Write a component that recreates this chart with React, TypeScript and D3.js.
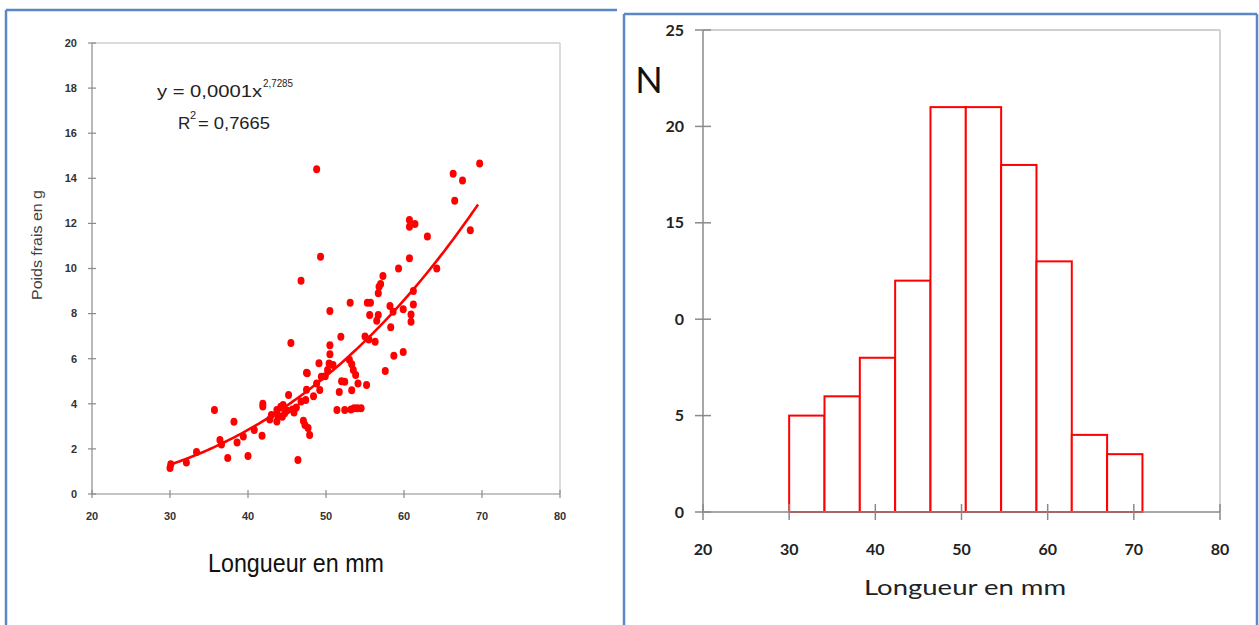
import React from "react";
import * as d3 from "d3";

// ---------- Data ----------
const scatterLength: number[] = [
  30.0, 30.1, 32.1, 33.4, 35.7, 36.4, 36.6, 37.4, 38.2, 38.6, 39.4, 40.0, 40.8, 41.8, 41.9, 41.9,
  43.7, 43.8, 43.7, 44.2, 44.5, 44.4, 44.7, 45.2, 45.5, 45.7, 45.9, 46.2, 46.4, 47.1, 47.3, 47.7,
  47.9, 47.5, 47.5, 47.4, 48.4, 49.2, 49.4, 49.9, 50.2, 50.4, 50.5, 50.5, 50.9, 51.4, 51.7, 52.0,
  52.4, 51.9, 52.4, 53.2, 53.6, 54.0, 54.5, 53.0, 53.3, 53.5, 53.8, 53.3, 54.1, 55.2, 55.0, 55.5,
  56.3, 57.6, 58.7, 59.9, 48.8, 69.7, 66.3, 67.5, 66.5, 68.5, 60.7, 60.7, 61.4, 63.0, 60.7, 59.3,
  64.2, 49.3, 46.8, 57.3, 57.0, 56.8, 56.7, 61.2, 50.5, 53.1, 55.3, 55.7, 55.6, 56.7, 58.2, 59.9,
  61.2, 60.9, 60.9, 58.3, 58.6, 56.5, 49.1, 47.6, 42.8, 43.0, 46.8, 45.0, 48.8,
];
const scatterWeight: number[] = [
  1.15, 1.32, 1.4, 1.86, 3.73, 2.4, 2.2, 1.6, 3.2, 2.28, 2.55, 1.68, 2.84, 2.58, 4.0, 3.88,
  3.73, 3.5, 3.21, 3.87, 3.95, 3.43, 3.58, 4.39, 6.7, 3.75, 3.61, 3.84, 1.51, 3.25, 3.06, 2.93,
  2.62, 5.38, 4.62, 4.17, 4.33, 4.61, 5.2, 5.22, 5.5, 5.79, 6.2, 6.6, 5.72, 3.73, 4.52, 5.0,
  4.98, 6.97, 3.73, 3.75, 3.8, 3.8, 3.8, 5.95, 5.75, 5.5, 5.28, 4.6, 4.9, 4.83, 6.98, 6.85,
  6.75, 5.45, 6.13, 6.3, 14.4, 14.66, 14.2, 13.9, 13.0, 11.7, 12.15, 11.85, 11.97, 11.42, 10.45, 10.0,
  10.0, 10.52, 9.46, 9.67, 9.31, 9.19, 8.9, 9.0, 8.12, 8.48, 8.48, 8.48, 7.94, 7.94, 8.34, 8.19,
  8.4, 7.96, 7.64, 7.4, 8.08, 7.68, 5.8, 5.35, 3.3, 3.5, 4.1, 3.7, 4.9,
];

const trendCoef = 0.000121;
const trendExp = 2.7285;
const trendRange: [number, number] = [30, 69.5];

const leftXTicks: number[] = [20, 30, 40, 50, 60, 70, 80];
const leftYTicks: number[] = [0, 2, 4, 6, 8, 10, 12, 14, 16, 18, 20];

const binEdges: number[] = [30, 34.1, 38.2, 42.3, 46.4, 50.5, 54.6, 58.7, 62.8, 66.9, 71];
const binCounts: number[] = [5, 6, 8, 12, 21, 21, 18, 13, 4, 3];

const rightXTicks: number[] = [20, 30, 40, 50, 60, 70, 80];
const rightYTicks: number[] = [0, 5, 10, 15, 20, 25];
const rightYTickLabels: string[] = ["0", "5", "0", "15", "20", "25"];

// ---------- Component ----------
export default function App() {
  const lx = d3.scaleLinear().domain([20, 80]).range([92, 560]);
  const ly = d3.scaleLinear().domain([0, 20]).range([494, 43]);

  const rx = d3.scaleLinear().domain([20, 80]).range([703, 1220]);
  const ry = d3.scaleLinear().domain([0, 25]).range([512, 30]);

  const trendPts: [number, number][] = d3.range(0, 101).map((i) => {
    const x = trendRange[0] + ((trendRange[1] - trendRange[0]) * i) / 100;
    return [x, trendCoef * Math.pow(x, trendExp)] as [number, number];
  });
  const trendLine = d3
    .line<[number, number]>()
    .x((d) => lx(d[0]))
    .y((d) => ly(d[1]))
    .curve(d3.curveMonotoneX);

  const axisColor = "#8a8a8a";
  const frameColor = "#cfcfcf";
  const blue = "#5b87c5";
  const narrow = "'Liberation Sans Narrow', 'Arial Narrow', 'Liberation Sans', Arial, sans-serif";
  const calib = "Lato, 'Open Sans', sans-serif";

  return (
    <div style={{ position: "absolute", left: 0, top: 0 }}>
      <svg width={1259} height={625} style={{ display: "block", background: "#fff" }}>
        {/* Panel borders */}
        <line x1={6} y1={10} x2={617} y2={10} stroke={blue} strokeWidth={2.5} />
        <line x1={6} y1={10} x2={6} y2={625} stroke={blue} strokeWidth={2.5} />
        <line x1={624} y1={14} x2={1257} y2={14} stroke={blue} strokeWidth={2.5} />
        <line x1={624} y1={14} x2={624} y2={625} stroke={blue} strokeWidth={2.5} />
        <line x1={1257} y1={14} x2={1257} y2={625} stroke={blue} strokeWidth={2.5} />

        {/* ===== Left chart ===== */}
        <line x1={lx(20)} y1={ly(20)} x2={lx(80)} y2={ly(20)} stroke={frameColor} strokeWidth={1.5} />
        <line x1={lx(80)} y1={ly(20)} x2={lx(80)} y2={ly(0)} stroke={frameColor} strokeWidth={1.5} />
        <line x1={lx(20)} y1={ly(0)} x2={lx(20)} y2={ly(20)} stroke={axisColor} strokeWidth={1.2} />
        <line x1={lx(20)} y1={ly(0)} x2={lx(80)} y2={ly(0)} stroke={axisColor} strokeWidth={1.2} />
        {leftYTicks.map((t) => (
          <g key={"ly" + t}>
            <line x1={lx(20) - 4} x2={lx(20) + 4} y1={ly(t)} y2={ly(t)} stroke={axisColor} strokeWidth={1.2} />
            <text x={lx(20) - 15} y={ly(t)} dy="0.35em" textAnchor="end" fontSize={11} fontFamily={narrow} fill="#333" fontWeight="bold">
              {t}
            </text>
          </g>
        ))}
        {leftXTicks.map((t) => (
          <g key={"lx" + t}>
            <line x1={lx(t)} x2={lx(t)} y1={ly(0) - 4} y2={ly(0) + 4} stroke={axisColor} strokeWidth={1.2} />
            <text x={lx(t)} y={ly(0) + 26} textAnchor="middle" fontSize={11} fontFamily={narrow} fill="#333" fontWeight="bold">
              {t}
            </text>
          </g>
        ))}
        {scatterLength.map((x, i) => (
          <ellipse key={"p" + i} cx={lx(x)} cy={ly(scatterWeight[i])} rx={3.5} ry={4} fill="#ff0000" />
        ))}
        <path d={trendLine(trendPts) || ""} fill="none" stroke="#ff0000" strokeWidth={2.6} />

        {/* Equation */}
        <text x={157} y={97} fontSize={17} fontFamily={narrow} fill="#222" textLength={105} lengthAdjust="spacingAndGlyphs">
          y = 0,0001x
        </text>
        <text x={263} y={87} fontSize={11} fontFamily={narrow} fill="#222" textLength={30} lengthAdjust="spacingAndGlyphs">
          2,7285
        </text>
        <text x={178} y={129} fontSize={17} fontFamily={narrow} fill="#222">
          R
        </text>
        <text x={190} y={119} fontSize={11} fontFamily={narrow} fill="#222">
          2
        </text>
        <text x={198} y={129} fontSize={17} fontFamily={narrow} fill="#222" textLength={72} lengthAdjust="spacingAndGlyphs">
          = 0,7665
        </text>

        {/* Axis titles */}
        <text
          transform="translate(42,245) rotate(-90)"
          textAnchor="middle"
          fontSize={14}
          fontFamily="'Liberation Sans', Arial, sans-serif"
          fill="#404040"
          textLength={110}
          lengthAdjust="spacingAndGlyphs"
        >
          Poids frais en g
        </text>
        <text x={296} y={572} textAnchor="middle" fontSize={25} fontFamily={narrow} fill="#111" textLength={176} lengthAdjust="spacingAndGlyphs">
          Longueur en mm
        </text>

        {/* ===== Right chart ===== */}
        <line x1={rx(20)} y1={ry(25)} x2={rx(80)} y2={ry(25)} stroke={frameColor} strokeWidth={1.8} />
        <line x1={rx(80)} y1={ry(25)} x2={rx(80)} y2={ry(0)} stroke={frameColor} strokeWidth={1.8} />
        {binCounts.map((c, i) => (
          <rect
            key={"b" + i}
            x={rx(binEdges[i])}
            y={ry(c)}
            width={rx(binEdges[i + 1]) - rx(binEdges[i])}
            height={ry(0) - ry(c)}
            fill="#fff"
            stroke="#ff0000"
            strokeWidth={2}
          />
        ))}
        <line x1={rx(20)} y1={ry(0)} x2={rx(20)} y2={ry(25)} stroke={axisColor} strokeWidth={1.5} />
        <line x1={rx(20)} y1={ry(0)} x2={rx(80)} y2={ry(0)} stroke={axisColor} strokeWidth={1.5} />
        {rightYTicks.map((t, i) => (
          <g key={"ry" + t}>
            <line x1={rx(20) - 8} x2={rx(20) + 8} y1={ry(t)} y2={ry(t)} stroke={axisColor} strokeWidth={1.5} />
            <text x={rx(20) - 19} y={ry(t)} dy="0.35em" textAnchor="end" fontSize={16} fontFamily={calib} fontWeight="bold" fill="#222">
              {rightYTickLabels[i]}
            </text>
          </g>
        ))}
        {rightXTicks.map((t) => (
          <g key={"rx" + t}>
            <line x1={rx(t)} x2={rx(t)} y1={ry(0) - 8} y2={ry(0) + 8} stroke={axisColor} strokeWidth={1.5} />
            <text x={rx(t)} y={ry(0) + 43} textAnchor="middle" fontSize={16} fontFamily={calib} fontWeight="bold" fill="#222">
              {t}
            </text>
          </g>
        ))}
        <text x={649} y={93} textAnchor="middle" fontSize={36} fontFamily={calib} fill="#111">
          N
        </text>
        <text x={965} y={595} textAnchor="middle" fontSize={22} fontFamily={calib} fill="#222" textLength={202} lengthAdjust="spacingAndGlyphs">
          Longueur en mm
        </text>
      </svg>
    </div>
  );
}
